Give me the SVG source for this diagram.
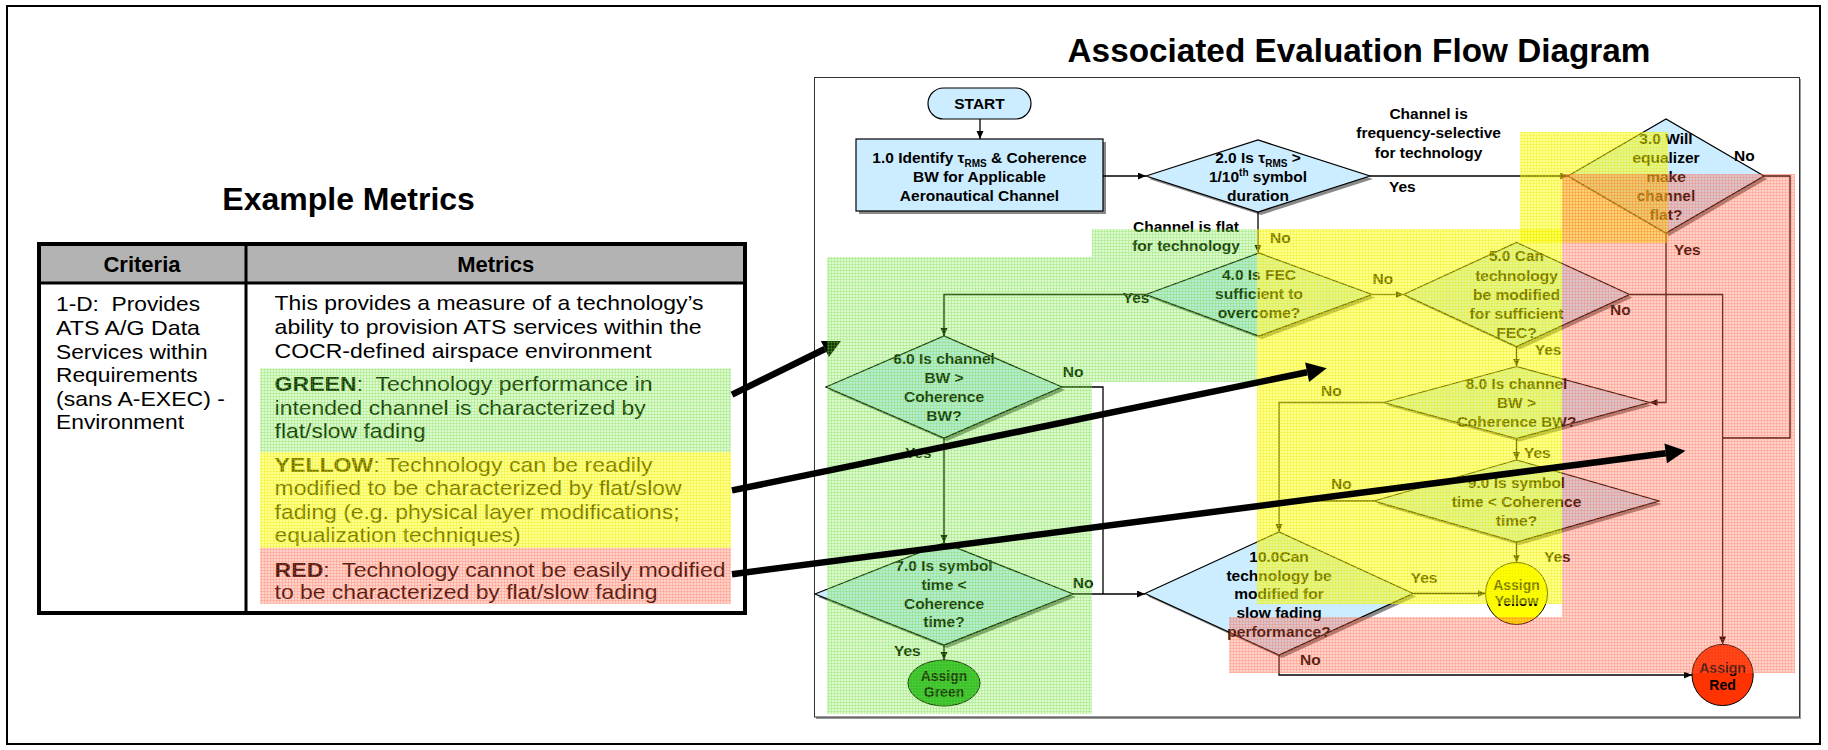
<svg xmlns="http://www.w3.org/2000/svg" width="1828" height="750" viewBox="0 0 1828 750">
<style>
.f{font-family:"Liberation Sans",Arial,Helvetica,sans-serif}
.tb{font-family:"Liberation Sans",Arial,sans-serif;font-size:21px;fill:#000;white-space:pre}
.th{font-family:"Liberation Sans",Arial,sans-serif;font-size:22px;font-weight:bold;text-anchor:middle}
.nt{font-family:"Liberation Sans",Arial,sans-serif;font-size:15.5px;font-weight:bold;text-anchor:middle;fill:#000}
.lb{font-family:"Liberation Sans",Arial,sans-serif;font-size:15.5px;font-weight:bold;fill:#000}
.ct{font-family:"Liberation Sans",Arial,sans-serif;font-size:14px;font-weight:bold;text-anchor:middle;fill:#000}
.shp{fill:#ccecff;stroke:#000;stroke-width:1.2}
.sh{fill:#8a8a8a}
.cn{fill:none;stroke:#000;stroke-width:1.3}
.ca{fill:none;stroke:#000;stroke-width:1.3;marker-end:url(#ah)}
.big{stroke:#000;stroke-width:6.5;fill:none}
</style>
<defs>
<marker id="ah" markerUnits="userSpaceOnUse" markerWidth="9" markerHeight="8" refX="8" refY="3.5" orient="auto">
<path d="M0,0 L8,3.5 L0,7 z" fill="#000"/>
</marker>
<pattern id="pg" width="3" height="3" patternUnits="userSpaceOnUse">
<rect width="3" height="3" fill="#6ee632" fill-opacity="0.24"/>
<path d="M0 0.5H3M0.5 0V3" stroke="#66dd33" stroke-opacity="0.25" stroke-width="1"/>
</pattern>
<pattern id="py" width="3" height="3" patternUnits="userSpaceOnUse">
<rect width="3" height="3" fill="#ffff00" fill-opacity="0.45"/>
<path d="M0 0.5H3M0.5 0V3" stroke="#e8e800" stroke-opacity="0.3" stroke-width="1"/>
</pattern>
<pattern id="pr" width="3" height="3" patternUnits="userSpaceOnUse">
<rect width="3" height="3" fill="#ff5a3c" fill-opacity="0.28"/>
<path d="M0 0.5H3M0.5 0V3" stroke="#ff5a3c" stroke-opacity="0.22" stroke-width="1"/>
</pattern>
</defs>
<rect width="1828" height="750" fill="#fff"/>
<rect x="7" y="6" width="1813" height="738" fill="none" stroke="#000" stroke-width="2"/>

<text class="f" x="348.6" y="209.6" font-size="32" font-weight="bold" text-anchor="middle">Example Metrics</text>
<text class="f" x="1359" y="62" font-size="33.3" font-weight="bold" text-anchor="middle">Associated Evaluation Flow Diagram</text>

<g id="metrics-table">
<rect x="39" y="244" width="706" height="39" fill="#b3b3b3"/>
<text class="th" x="142" y="272">Criteria</text>
<text class="th" x="495.7" y="272">Metrics</text>
<text class="tb" x="56" y="311" textLength="144" lengthAdjust="spacingAndGlyphs">1-D:  Provides</text>
<text class="tb" x="56" y="335" textLength="144" lengthAdjust="spacingAndGlyphs">ATS A/G Data</text>
<text class="tb" x="56" y="358.5" textLength="151.7" lengthAdjust="spacingAndGlyphs">Services within</text>
<text class="tb" x="56" y="382" textLength="141.7" lengthAdjust="spacingAndGlyphs">Requirements</text>
<text class="tb" x="56" y="405.5" textLength="169" lengthAdjust="spacingAndGlyphs">(sans A-EXEC) -</text>
<text class="tb" x="56" y="428.5" textLength="128" lengthAdjust="spacingAndGlyphs">Environment</text>
<text class="tb" x="274.6" y="310" textLength="429" lengthAdjust="spacingAndGlyphs">This provides a measure of a technology’s</text>
<text class="tb" x="274.6" y="334" textLength="427" lengthAdjust="spacingAndGlyphs">ability to provision ATS services within the</text>
<text class="tb" x="274.6" y="358" textLength="377" lengthAdjust="spacingAndGlyphs">COCR-defined airspace environment</text>
<text class="tb" x="274.6" y="391.4" textLength="378" lengthAdjust="spacingAndGlyphs"><tspan font-weight="bold">GREEN</tspan>:  Technology performance in</text>
<text class="tb" x="274.6" y="415.3" textLength="371" lengthAdjust="spacingAndGlyphs">intended channel is characterized by</text>
<text class="tb" x="274.6" y="437.8" textLength="151" lengthAdjust="spacingAndGlyphs">flat/slow fading</text>
<text class="tb" x="274.6" y="472.2" textLength="378" lengthAdjust="spacingAndGlyphs"><tspan font-weight="bold">YELLOW</tspan>: Technology can be readily</text>
<text class="tb" x="274.6" y="495.2" textLength="407" lengthAdjust="spacingAndGlyphs">modified to be characterized by flat/slow</text>
<text class="tb" x="274.6" y="519.1" textLength="405" lengthAdjust="spacingAndGlyphs">fading (e.g. physical layer modifications;</text>
<text class="tb" x="274.6" y="542.1" textLength="246" lengthAdjust="spacingAndGlyphs">equalization techniques)</text>
<text class="tb" x="274.6" y="576.6" textLength="451" lengthAdjust="spacingAndGlyphs"><tspan font-weight="bold">RED</tspan>:  Technology cannot be easily modified</text>
<text class="tb" x="274.6" y="599" textLength="383" lengthAdjust="spacingAndGlyphs">to be characterized by flat/slow fading</text>
<rect x="260" y="368.4" width="471" height="83.8" fill="url(#pg)"/>
<rect x="260" y="452.2" width="471" height="95.6" fill="url(#py)"/>
<rect x="260" y="547.8" width="471" height="56" fill="url(#pr)"/>
<line x1="39" y1="283" x2="745" y2="283" stroke="#000" stroke-width="3"/>
<line x1="246" y1="244" x2="246" y2="613" stroke="#000" stroke-width="3"/>
<rect x="39" y="244" width="706" height="369" fill="none" stroke="#000" stroke-width="4"/>
</g>

<g id="flow-frame">
<rect x="816" y="79" width="985" height="640" fill="#9a9a9a"/>
<rect x="814.5" y="77.5" width="985" height="639.5" fill="#fff" stroke="#333" stroke-width="1"/>
</g>

<g id="n-start">
<rect x="928" y="88" width="103" height="31" rx="15.5" class="shp"/>
<text class="nt" x="979.5" y="109" font-size="16">START</text>
</g>
<g id="n-1">
<rect x="859" y="142" width="247" height="72" class="sh"/>
<rect x="856" y="139" width="247" height="72" class="shp"/>
<text class="nt" x="979.5" y="163">1.0 Identify τ<tspan font-size="10" dy="4">RMS</tspan><tspan dy="-4"> &amp; Coherence</tspan></text>
<text class="nt" x="979.5" y="182">BW for Applicable</text>
<text class="nt" x="979.5" y="200.5">Aeronautical Channel</text>
</g>
<g id="n-2">
<polygon class="sh" points="1149,179 1261,143 1373,179 1261,215"/>
<polygon class="shp" points="1146,176 1258,140 1370,176 1258,212"/>
<text class="nt" x="1258" y="163">2.0 Is τ<tspan font-size="10" dy="4">RMS</tspan><tspan dy="-4"> &gt;</tspan></text>
<text class="nt" x="1258" y="182">1/10<tspan font-size="10" dy="-6">th</tspan><tspan dy="6"> symbol</tspan></text>
<text class="nt" x="1258" y="200.5">duration</text>
</g>
<g id="n-3">
<polygon class="sh" points="1571,179 1669,122 1767,179 1669,236"/>
<polygon class="shp" points="1568,176 1666,119 1764,176 1666,233"/>
<text class="nt" x="1666" y="144">3.0 Will</text>
<text class="nt" x="1666" y="163">equalizer</text>
<text class="nt" x="1666" y="182">make</text>
<text class="nt" x="1666" y="201">channel</text>
<text class="nt" x="1666" y="220">flat?</text>
</g>
<g id="n-4">
<polygon class="sh" points="1149,297.5 1262,256 1375,297.5 1262,339"/>
<polygon class="shp" points="1146,294.5 1259,253 1372,294.5 1259,336"/>
<text class="nt" x="1259" y="280">4.0 Is FEC</text>
<text class="nt" x="1259" y="299">sufficient to</text>
<text class="nt" x="1259" y="317.5">overcome?</text>
</g>
<g id="n-5">
<polygon class="sh" points="1406.5,297.5 1519.5,245.5 1632.5,297.5 1519.5,349.5"/>
<polygon class="shp" points="1403.5,294.5 1516.5,242.5 1629.5,294.5 1516.5,346.5"/>
<text class="nt" x="1516.5" y="261">5.0 Can</text>
<text class="nt" x="1516.5" y="280.5">technology</text>
<text class="nt" x="1516.5" y="299.5">be modified</text>
<text class="nt" x="1516.5" y="318.5">for sufficient</text>
<text class="nt" x="1516.5" y="337.5">FEC?</text>
</g>
<g id="n-6">
<polygon class="sh" points="829,390 947,339 1065,390 947,441"/>
<polygon class="shp" points="826,387 944,336 1062,387 944,438"/>
<text class="nt" x="944" y="364">6.0 Is channel</text>
<text class="nt" x="944" y="383">BW &gt;</text>
<text class="nt" x="944" y="402">Coherence</text>
<text class="nt" x="944" y="421">BW?</text>
</g>
<g id="n-7">
<polygon class="sh" points="818,597 947,546 1076,597 947,648"/>
<polygon class="shp" points="815,594 944,543 1073,594 944,645"/>
<text class="nt" x="944" y="570.7">7.0 Is symbol</text>
<text class="nt" x="944" y="589.7">time &lt;</text>
<text class="nt" x="944" y="608.5">Coherence</text>
<text class="nt" x="944" y="627">time?</text>
</g>
<g id="n-8">
<polygon class="sh" points="1386.5,405.5 1519.5,369.5 1652.5,405.5 1519.5,441.5"/>
<polygon class="shp" points="1383.5,402.5 1516.5,366.5 1649.5,402.5 1516.5,438.5"/>
<text class="nt" x="1516.5" y="389.3">8.0 Is channel</text>
<text class="nt" x="1516.5" y="408.3">BW &gt;</text>
<text class="nt" x="1516.5" y="426.7">Coherence BW?</text>
</g>
<g id="n-9">
<polygon class="sh" points="1377,504 1519.5,463 1662,504 1519.5,545"/>
<polygon class="shp" points="1374,501 1516.5,460 1659,501 1516.5,542"/>
<text class="nt" x="1516.5" y="487.7">9.0 Is symbol</text>
<text class="nt" x="1516.5" y="506.7">time &lt; Coherence</text>
<text class="nt" x="1516.5" y="525.7">time?</text>
</g>
<g id="n-10">
<polygon class="sh" points="1148,596.5 1282,535 1416,596.5 1282,658"/>
<polygon class="shp" points="1145,593.5 1279,532 1413,593.5 1279,655"/>
<text class="nt" x="1279" y="561.7">10.0Can</text>
<text class="nt" x="1279" y="580.7">technology be</text>
<text class="nt" x="1279" y="599.3">modified for</text>
<text class="nt" x="1279" y="618.3">slow fading</text>
<text class="nt" x="1279" y="637.3">performance?</text>
</g>
<g id="n-green">
<ellipse cx="944" cy="683" rx="36" ry="23" fill="#2db52d" stroke="#000" stroke-width="1"/>
<text class="ct" x="944" y="680.7">Assign</text>
<text class="ct" x="944" y="696.7">Green</text>
</g>
<g id="n-yellow">
<circle cx="1516.5" cy="593.5" r="31" fill="#ffff00" stroke="#000" stroke-width="1"/>
<text class="ct" x="1516.5" y="590">Assign</text>
<text class="ct" x="1516.5" y="606">Yellow</text>
</g>
<g id="n-red">
<circle cx="1722.6" cy="675" r="30.6" fill="#ff3300" stroke="#000" stroke-width="1"/>
<text class="ct" x="1722.6" y="673.3">Assign</text>
<text class="ct" x="1722.6" y="690">Red</text>
</g>

<g id="connectors">
<path class="ca" d="M980,119 V139"/>
<path class="ca" d="M1103,176 H1146"/>
<path class="ca" d="M1370,176 H1568"/>
<path class="cn" d="M1764,176 H1790 V438 H1722.6"/>
<path class="ca" d="M1258,212 V253"/>
<path class="ca" d="M1372,294.5 H1403.5"/>
<path class="ca" d="M1146,294.5 H944 V336"/>
<path class="ca" d="M1629.5,294.5 H1722.6 V644.4"/>
<path class="ca" d="M1666,233 V402.5 H1649.5"/>
<path class="ca" d="M1516.5,346.5 V366.5"/>
<path class="ca" d="M1516.5,438.5 V460"/>
<path class="ca" d="M1516.5,542 V562.5"/>
<path class="ca" d="M1383.5,402.5 H1279 V532"/>
<path class="cn" d="M1374,501 H1279"/>
<path class="ca" d="M1413,593.5 H1485.5"/>
<path class="ca" d="M1279,655 V675 H1692"/>
<path class="ca" d="M944,438 V543"/>
<path class="cn" d="M1062,387 H1103 V594"/>
<path class="ca" d="M1073,594 H1145"/>
<path class="ca" d="M944,645 V660"/>
</g>

<g id="labels">
<text class="nt" x="1428.6" y="119">Channel is</text>
<text class="nt" x="1428.6" y="138">frequency-selective</text>
<text class="nt" x="1428.6" y="157.5">for technology</text>
<text class="lb" x="1389" y="192">Yes</text>
<text class="lb" x="1734" y="161">No</text>
<text class="lb" x="1674" y="254.6">Yes</text>
<text class="nt" x="1186" y="231.5">Channel is flat</text>
<text class="nt" x="1186" y="250.5">for technology</text>
<text class="lb" x="1270" y="243">No</text>
<text class="lb" x="1122.7" y="303">Yes</text>
<text class="lb" x="1372.5" y="284">No</text>
<text class="lb" x="1610" y="315">No</text>
<text class="lb" x="1534.7" y="355">Yes</text>
<text class="lb" x="1062.7" y="376.7">No</text>
<text class="lb" x="905" y="457.7">Yes</text>
<text class="lb" x="1072.7" y="587.7">No</text>
<text class="lb" x="894" y="655.7">Yes</text>
<text class="lb" x="1321" y="396">No</text>
<text class="lb" x="1524" y="458.3">Yes</text>
<text class="lb" x="1331" y="489.3">No</text>
<text class="lb" x="1544" y="562.3">Yes</text>
<text class="lb" x="1410.7" y="582.7">Yes</text>
<text class="lb" x="1300" y="665">No</text>
</g>

<g id="arrow-green">
<line class="big" x1="732" y1="394.7" x2="824.9" y2="349"/>
<polygon points="841,341 828.9,357.1 820.9,340.9" fill="#000"/>
</g>

<g id="overlays">
<rect x="827" y="257" width="265" height="457" fill="url(#pg)"/>
<rect x="1092" y="229" width="165" height="153" fill="url(#pg)"/>
<rect x="1257" y="229" width="305" height="375" fill="url(#py)"/>
<rect x="1520" y="132" width="148" height="111" fill="url(#py)"/>
<rect x="1562" y="174" width="233" height="499" fill="url(#pr)"/>
<rect x="1229" y="617" width="333" height="56" fill="url(#pr)"/>
</g>

<g id="arrow-yellow">
<line class="big" x1="732" y1="490.4" x2="1307.1" y2="372.3"/>
<polygon points="1326.7,368.3 1309.1,382.1 1305.1,362.5" fill="#000"/>
</g>
<g id="arrow-red">
<line class="big" x1="732" y1="574.2" x2="1665.7" y2="453.3"/>
<polygon points="1685.5,450.7 1667,463.2 1664.4,443.4" fill="#000"/>
</g>
</svg>
